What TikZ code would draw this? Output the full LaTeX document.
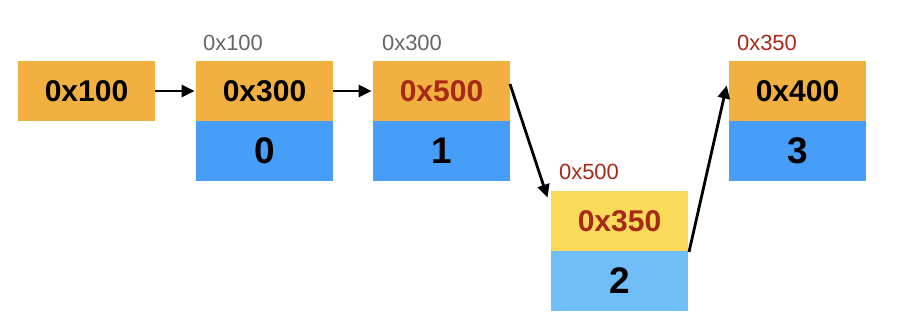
\documentclass[tikz,border=0pt]{standalone}
\usepackage{fontspec}
\setmainfont{Liberation Sans}
\usetikzlibrary{arrows.meta}
\definecolor{cOrange}{HTML}{F2B040}
\definecolor{cBlue}{HTML}{479EF8}
\definecolor{cLightBlue}{HTML}{70BEF8}
\definecolor{cYellow}{HTML}{F9DA59}
\definecolor{cRed}{HTML}{A62A17}
\definecolor{cGray}{HTML}{666666}
\tikzset{
  cell/.style={minimum width=137pt, minimum height=60pt, inner sep=0pt, outer sep=0pt,
    font=\fontsize{30}{30}\selectfont\bfseries, text=black},
  topcell/.style={cell, fill=cOrange},
  botcell/.style={cell, fill=cBlue, font=\fontsize{37}{37}\selectfont\bfseries},
  addr/.style={font=\fontsize{22}{22}\selectfont, text=cGray, inner sep=0pt},
  link/.style={line width=2.8pt, shorten >=1.5pt, -{Triangle[length=13pt,width=12pt]}},
}
\begin{document}
\begin{tikzpicture}[x=1pt,y=-1pt]
\useasboundingbox (0,0) rectangle (914,328);
% head
\node[topcell] (h) at (86.5,91) {0x100};
% node 0
\node[topcell] (n1t) at (264.5,91) {0x300};
\node[botcell] (n1b) at (264.5,151) {0};
\node[addr] (a1) at (233,43) {0x100};
% node 1
\node[topcell, text=cRed] (n2t) at (441.5,91) {0x500};
\node[botcell] (n2b) at (441.5,151) {1};
\node[addr] (a2) at (412,43) {0x300};
% node 2
\node[topcell, fill=cYellow, text=cRed] (n3t) at (619.5,221) {0x350};
\node[botcell, fill=cLightBlue] (n3b) at (619.5,281) {2};
\node[addr, text=cRed] (a3) at (589,172) {0x500};
% node 3
\node[topcell] (n4t) at (797.5,91) {0x400};
\node[botcell] (n4b) at (797.5,151) {3};
\node[addr, text=cRed] (a4) at (767,43) {0x350};
% links
\draw[link] (h.east) -- (n1t.west);
\draw[link] (n1t.east) -- (n2t.west);
\draw[link] ([yshift=7pt]n2t.east) -- ([xshift=-3pt,yshift=22pt]n3t.west);
\draw[link] ([xshift=1pt,yshift=-1pt]n3t.south east) -- ([xshift=-2pt,yshift=7pt]n4t.west);
\end{tikzpicture}
\end{document}
